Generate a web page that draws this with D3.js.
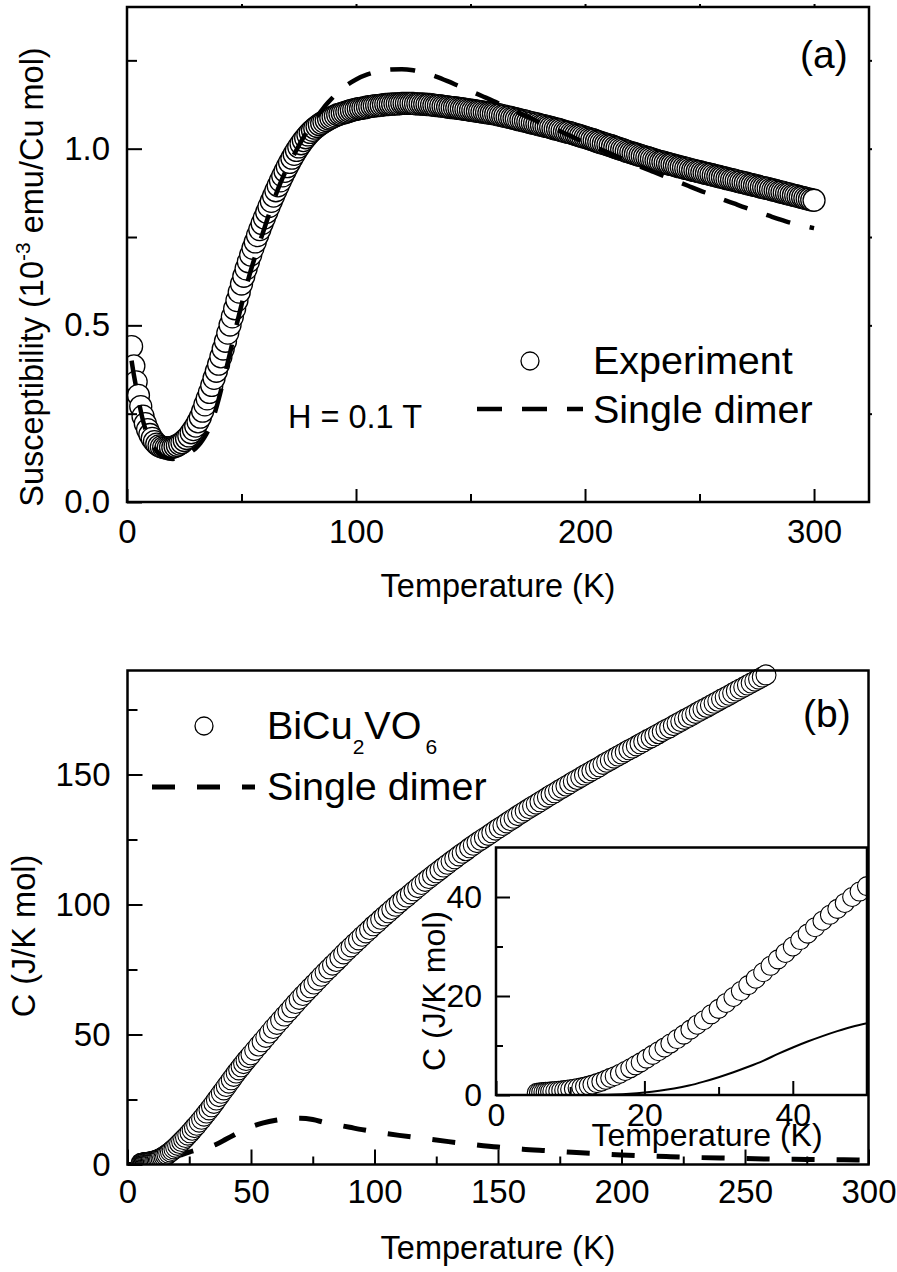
<!DOCTYPE html>
<html><head><meta charset="utf-8">
<script src="https://cdn.jsdelivr.net/npm/d3@7"></script>
<style>
body{margin:0;background:#fff}
svg text{font-family:"Liberation Sans",Arial,sans-serif;fill:#000}
</style></head><body>
<svg id="c" width="897" height="1272"></svg>
<script>
// ---------- DATA ----------
// (a) susceptibility, experiment
const suscT=[2,3,4,5,6,7,8,9,10,
11,12,13,14,15,16,17,18,19,20,
21,22,23,24,25,26,27,28,29,30,
31,32,33,34,35,36,37,38,39,40,
41,42,43,44,45,46,47,48,49,50,
51,52,53,54,55,56,57,58,59,60,
61,62,63,64,65,66,67,68,69,70,
71,72,73,74,75,76,77,78,79,80,
81,82,83,84,85,86,87,88,89,90,
91,92,93,94,95,96,97,98,99,100,
101,102,103,104,105,106,107,108,109,110,
111,112,113,114,115,116,117,118,119,120,
121,122,123,124,125,126,127,128,129,130,
131,132,133,134,135,136,137,138,139,140,
141,142,143,144,145,146,147,148,149,150,
151,152,153,154,155,156,157,158,159,160,
161,162,163,164,165,166,167,168,169,170,
171,172,173,174,175,176,177,178,179,180,
181,182,183,184,185,186,187,188,189,190,
191,192,193,194,195,196,197,198,199,200,
201,202,203,204,205,206,207,208,209,210,
211,212,213,214,215,216,217,218,219,220,
221,222,223,224,225,226,227,228,229,230,
231,232,233,234,235,236,237,238,239,240,
241,242,243,244,245,246,247,248,249,250,
251,252,253,254,255,256,257,258,259,260,
261,262,263,264,265,266,267,268,269,270,
271,272,273,274,275,276,277,278,279,280,
281,282,283,284,285,286,287,288,289,290,
291,292,293,294,295,296,297,298,299,300];
const suscExp=[0.440,0.385,0.340,0.302,0.270,0.243,0.222,0.205,0.191,
0.180,0.171,0.164,0.159,0.156,0.154,0.153,0.153,0.154,0.155,
0.157,0.160,0.164,0.168,0.174,0.180,0.187,0.196,0.205,0.215,
0.227,0.240,0.257,0.275,0.292,0.310,0.330,0.350,0.370,0.390,
0.411,0.433,0.455,0.478,0.501,0.524,0.547,0.570,0.594,0.617,
0.639,0.660,0.680,0.699,0.718,0.736,0.754,0.771,0.788,0.804,
0.820,0.836,0.851,0.866,0.881,0.895,0.909,0.923,0.936,0.949,
0.961,0.973,0.984,0.995,1.005,1.014,1.023,1.031,1.039,1.046,
1.052,1.058,1.063,1.068,1.072,1.076,1.080,1.084,1.087,1.090,
1.093,1.096,1.098,1.100,1.102,1.104,1.106,1.108,1.110,1.111,
1.113,1.114,1.115,1.116,1.118,1.119,1.120,1.121,1.122,1.122,
1.123,1.124,1.125,1.125,1.126,1.126,1.127,1.127,1.127,1.128,
1.128,1.128,1.128,1.128,1.128,1.127,1.127,1.127,1.126,1.126,
1.125,1.125,1.124,1.123,1.122,1.122,1.121,1.120,1.119,1.118,
1.117,1.116,1.116,1.115,1.114,1.113,1.112,1.111,1.110,1.109,
1.108,1.107,1.106,1.105,1.104,1.103,1.102,1.101,1.100,1.099,
1.098,1.096,1.095,1.093,1.092,1.090,1.089,1.087,1.086,1.084,
1.082,1.081,1.079,1.078,1.076,1.074,1.073,1.071,1.070,1.068,
1.066,1.065,1.063,1.062,1.060,1.058,1.056,1.055,1.053,1.051,
1.049,1.047,1.046,1.044,1.042,1.040,1.038,1.036,1.034,1.032,
1.030,1.028,1.026,1.024,1.021,1.019,1.017,1.015,1.013,1.011,
1.009,1.007,1.004,1.002,1.000,0.998,0.996,0.993,0.991,0.989,
0.987,0.985,0.983,0.981,0.979,0.977,0.975,0.973,0.971,0.969,
0.967,0.965,0.963,0.962,0.960,0.958,0.956,0.955,0.953,0.951,
0.949,0.948,0.946,0.944,0.943,0.941,0.939,0.938,0.936,0.935,
0.933,0.931,0.930,0.928,0.927,0.925,0.923,0.922,0.920,0.919,
0.917,0.915,0.914,0.912,0.911,0.909,0.907,0.906,0.904,0.903,
0.901,0.899,0.898,0.896,0.895,0.893,0.891,0.890,0.888,0.887,
0.885,0.883,0.882,0.880,0.878,0.877,0.875,0.873,0.872,0.870,
0.868,0.867,0.865,0.863,0.862,0.860,0.858,0.857,0.855,0.854];
// (a) single dimer model
const dimerT=[2,3,4,5,6,7,8,10,12,14,16,18,20,22,24,26,28,30,32,34,36,38,40,42,44,46,48,50,52,54,56,58,60,62,64,66,68,70,72,74,76,78,80,82,84,86,88,90,95,100,105,110,115,120,125,130,135,140,145,150,155,160,165,170,175,180,185,190,195,200,205,210,215,220,225,230,235,240,245,250,255,260,265,270,275,280,285,290,295,300];
const dimerChi=[0.400,0.360,0.325,0.290,0.258,0.230,0.207,0.174,0.152,0.137,0.128,0.123,0.122,0.124,0.128,0.134,0.142,0.152,0.166,0.185,0.210,0.245,0.290,0.342,0.395,0.450,0.505,0.558,0.608,0.654,0.696,0.736,0.775,0.814,0.852,0.887,0.918,0.946,0.972,0.996,1.020,1.042,1.063,1.083,1.100,1.117,1.132,1.146,1.175,1.196,1.210,1.219,1.224,1.225,1.222,1.215,1.204,1.191,1.177,1.163,1.149,1.135,1.120,1.105,1.090,1.075,1.061,1.047,1.032,1.017,1.003,0.989,0.975,0.961,0.947,0.934,0.921,0.908,0.895,0.882,0.870,0.857,0.845,0.833,0.822,0.811,0.800,0.790,0.782,0.775];

// (b) specific heat, BiCu2VO6
const heatT=[5.5,5.8,6.1,6.4,6.7,7.0,7.3,7.6,8.0,8.4,8.8,9.2,9.6,10.0,10.5,11.0,11.5,12.0,12.5,13.0,13.6,14.2,14.8,15.4,16.0,16.7,17.4,18.1,18.8,19.5,20.3,21.1,21.9,22.7,23.5,24.4,25.3,26.2,27.1,
28,29,30,31,32,33,34,35,36,37,38,39,40,41,42,43,44,45,46,47,48,49,50,
51.5,53,54.5,56,57.5,59,60.5,62,63.5,65,
66.5,68,69.5,71,72.5,74,75.5,77,78.5,80,
81.5,83,84.5,86,87.5,89,90.5,92,93.5,95,
96.5,98,99.5,101,102.5,104,105.5,107,108.5,110,
111.5,113,114.5,116,117.5,119,120.5,122,123.5,125,
126.5,128,129.5,131,132.5,134,135.5,137,138.5,140,
141.5,143,144.5,146,147.5,149,150.5,152,153.5,155,
156.5,158,159.5,161,162.5,164,165.5,167,168.5,170,
171.5,173,174.5,176,177.5,179,180.5,182,183.5,185,
186.5,188,189.5,191,192.5,194,195.5,197,198.5,200,
201.5,203,204.5,206,207.5,209,210.5,212,213.5,215,
216.5,218,219.5,221,222.5,224,225.5,227,228.5,230,
231.5,233,234.5,236,237.5,239,240.5,242,243.5,245,
246.5,248,249.5,251,252.5,254,255.5,257,258.5];
const heatC=[0.45,0.5,0.55,0.6,0.63,0.66,0.7,0.74,0.8,0.86,0.92,0.99,1.06,1.15,1.27,1.4,1.55,1.7,1.9,2.1,2.4,2.7,3.05,3.45,3.8,4.3,4.85,5.4,6.0,6.6,7.35,8.1,8.85,9.6,10.4,11.3,12.2,13.2,14.2,
15.1,16.3,17.4,18.6,19.8,21.0,22.2,23.5,24.8,26.1,27.4,28.7,30.0,31.3,32.6,33.9,35.2,36.4,37.6,38.8,40.0,41.1,42.2,
43.9,45.6,47.2,48.9,50.6,52.3,53.9,55.5,57.1,58.7,
60.3,61.9,63.5,65.0,66.5,68.0,69.4,70.9,72.4,73.9,
75.3,76.7,78.1,79.5,81.0,82.4,83.7,85.1,86.4,87.8,
89.1,90.4,91.8,93.0,94.3,95.6,96.8,98.1,99.3,100.6,
101.8,102.9,104.1,105.3,106.5,107.7,108.9,110.0,111.1,112.2,
113.3,114.4,115.5,116.6,117.6,118.7,119.7,120.7,121.8,122.8,
123.8,124.7,125.7,126.6,127.6,128.6,129.5,130.4,131.4,132.3,
133.2,134.2,135.1,136.0,136.9,137.8,138.6,139.5,140.4,141.3,
142.2,143.0,143.9,144.7,145.6,146.4,147.3,148.1,148.9,149.8,
150.6,151.4,152.2,153.0,153.9,154.7,155.5,156.3,157.1,157.9,
158.7,159.5,160.2,161.0,161.8,162.6,163.4,164.1,164.9,165.7,
166.5,167.3,168.0,168.8,169.6,170.4,171.2,171.9,172.7,173.5,
174.3,175.1,175.8,176.6,177.4,178.2,179.0,179.7,180.5,181.3,
182.1,182.9,183.6,184.4,185.2,185.9,186.7,187.5,188.3];
// (b) single dimer (main panel, dashed)
const heatDimerT=[0,5,10,12,15,18,20,22,25,28,30,33,36,40,45,50,55,60,65,70,75,80,85,90,95,100,110,120,130,140,150,160,170,180,190,200,210,220,230,240,250,260,270,280,290,300];
const heatDimerC=[0,0,0.1,0.4,1.2,2.3,3.1,3.8,4.8,5.6,6.1,6.8,7.8,9.8,12.3,14.5,16.0,17.0,17.6,17.8,17.3,16.1,15.2,14.3,13.4,12.6,11.2,10.0,8.8,7.7,6.7,5.9,5.3,4.7,4.2,3.7,3.3,3.0,2.7,2.5,2.3,2.1,2.0,1.9,1.8,1.7];
// (b) inset single dimer (solid)
const insetDimerT=[0,10,14,16,18,20,22,24,26,28,30,32,34,36,38,40,42,44,46,48,50];
const insetDimerC=[0,0,0.03,0.1,0.25,0.5,0.85,1.3,1.9,2.7,3.6,4.6,5.7,6.9,8.3,9.6,10.8,11.9,12.9,13.8,14.5];

// ticks
const aXMajor=[0,100,200,300], aXMinor=[50,150,250];
const aYMajor=[0,0.5,1.0], aYMinor=[0.25,0.75,1.25];
const bXMajor=[0,50,100,150,200,250,300], bXMinor=[25,75,125,175,225,275];
const bYMajor=[0,50,100,150], bYMinor=[25,75,125,175];
const iXMajor=[0,20,40], iXMinor=[10,30];
const iYMajor=[0,20,40], iYMinor=[10,30];

// ---------- DRAW ----------
const FONT='"Liberation Sans",Arial,sans-serif';
const TICK=33, TITLE=32.5;
const svg=d3.select('#c');
const defs=svg.append('defs');

function styleAxis(sel,fs){
  sel.attr('font-family',null).attr('font-size',null);
  sel.select('.domain').remove();
  sel.selectAll('.tick line').attr('stroke','#000').attr('stroke-width',2);
  sel.selectAll('.tick text').attr('font-size',fs).attr('font-family',FONT).attr('fill','#000');
}
function txt(x,y,s,fs,anchor){
  return svg.append('text').attr('x',x).attr('y',y).attr('font-size',fs).attr('text-anchor',anchor||'start').text(s);
}

// ===== Panel (a) =====
const xA=d3.scaleLinear().domain([0,324]).range([127,869]);
const yA=d3.scaleLinear().domain([0,1.401]).range([502,7]);
defs.append('clipPath').attr('id','clipA').append('rect').attr('x',127).attr('y',0).attr('width',770).attr('height',502);

const gA=svg.append('g').attr('clip-path','url(#clipA)');
gA.selectAll('circle').data(suscT.map((t,i)=>[t,suscExp[i]])).join('circle')
  .attr('cx',d=>xA(d[0])).attr('cy',d=>yA(d[1])).attr('r',11)
  .attr('fill','#fff').attr('stroke','#000').attr('stroke-width',1.3);
gA.append('path').datum(dimerT.map((t,i)=>[t,dimerChi[i]]))
  .attr('d',d3.line().x(d=>xA(d[0])).y(d=>yA(d[1])).curve(d3.curveMonotoneX))
  .attr('fill','none').attr('stroke','#000').attr('stroke-width',4.5).attr('stroke-dasharray','25,20');

svg.append('rect').attr('x',127).attr('y',7).attr('width',742).attr('height',495)
  .attr('fill','none').attr('stroke','#000').attr('stroke-width',2.5);
svg.append('g').attr('transform',`translate(0,${yA(0)})`)
  .call(d3.axisBottom(xA).tickValues(aXMajor).tickSize(-13).tickPadding(17.5).tickFormat(d3.format('d'))).call(styleAxis,TICK);
svg.append('g').attr('transform',`translate(0,${yA(0)})`)
  .call(d3.axisBottom(xA).tickValues(aXMinor).tickSize(-8).tickFormat('')).call(styleAxis,TICK);
svg.append('g').attr('transform',`translate(${xA(0)},0)`)
  .call(d3.axisLeft(yA).tickValues(aYMajor).tickSize(-15).tickPadding(17).tickFormat(d3.format('.1f'))).call(styleAxis,TICK);
svg.append('g').attr('transform',`translate(${xA(0)},0)`)
  .call(d3.axisLeft(yA).tickValues(aYMinor).tickSize(-10).tickFormat('')).call(styleAxis,TICK);
svg.append('g').attr('transform',`translate(0,${yA.range()[1]})`)
  .call(d3.axisTop(xA).tickValues(aXMajor.concat(aXMinor).filter(v=>v>0)).tickSize(3).tickFormat('')).call(styleAxis,TICK);
svg.append('g').attr('transform',`translate(${xA.range()[1]},0)`)
  .call(d3.axisRight(yA).tickValues(aYMajor.concat(aYMinor).filter(v=>v>0)).tickSize(3).tickFormat('')).call(styleAxis,TICK);

// labels (a)
const ylA=svg.append('text').attr('transform','translate(43,277) rotate(-90)').attr('text-anchor','middle').attr('font-size',32.5);
ylA.append('tspan').text('Susceptibility (10');
ylA.append('tspan').attr('font-size',21).attr('dy',-13).text('-3');
ylA.append('tspan').attr('dy',13).text(' emu/Cu mol)');
txt(498,597,'Temperature (K)',TITLE,'middle');
txt(800,68,'(a)',39);
txt(288,428,'H = 0.1 T',32.5);
// legend (a)
svg.append('circle').attr('cx',530).attr('cy',361).attr('r',9).attr('fill','#fff').attr('stroke','#000').attr('stroke-width',1.3);
txt(593,374,'Experiment',39.5);
svg.append('line').attr('x1',477).attr('x2',583).attr('y1',409).attr('y2',409)
  .attr('stroke','#000').attr('stroke-width',4.5).attr('stroke-dasharray','25,20');
txt(593,423,'Single dimer',39.5);

// ===== Panel (b) =====
const xB=d3.scaleLinear().domain([0,300]).range([127.5,868.5]);
const yB=d3.scaleLinear().domain([0,190]).range([1164.5,670.5]);
defs.append('clipPath').attr('id','clipB').append('rect').attr('x',127.5).attr('y',620).attr('width',770).attr('height',1164.5-620);

const gB=svg.append('g').attr('clip-path','url(#clipB)');
gB.append('path').datum(heatDimerT.map((t,i)=>[t,heatDimerC[i]]))
  .attr('d',d3.line().x(d=>xB(d[0])).y(d=>yB(d[1])).curve(d3.curveMonotoneX))
  .attr('fill','none').attr('stroke','#000').attr('stroke-width',5).attr('stroke-dasharray','23,22');
gB.selectAll('circle').data(heatT.map((t,i)=>[t,heatC[i]])).join('circle')
  .attr('cx',d=>xB(d[0])).attr('cy',d=>yB(d[1])).attr('r',10)
  .attr('fill','#fff').attr('stroke','#000').attr('stroke-width',1.1);

svg.append('rect').attr('x',127.5).attr('y',670.5).attr('width',741).attr('height',494)
  .attr('fill','none').attr('stroke','#000').attr('stroke-width',2.5);
svg.append('g').attr('transform',`translate(0,${yB(0)})`)
  .call(d3.axisBottom(xB).tickValues(bXMajor).tickSize(-15).tickPadding(15).tickFormat(d3.format('d'))).call(styleAxis,TICK);
svg.append('g').attr('transform',`translate(0,${yB(0)})`)
  .call(d3.axisBottom(xB).tickValues(bXMinor).tickSize(-8).tickFormat('')).call(styleAxis,TICK);
svg.append('g').attr('transform',`translate(${xB(0)},0)`)
  .call(d3.axisLeft(yB).tickValues(bYMajor).tickSize(-15).tickPadding(17).tickFormat(d3.format('d'))).call(styleAxis,TICK);
svg.append('g').attr('transform',`translate(${xB(0)},0)`)
  .call(d3.axisLeft(yB).tickValues(bYMinor).tickSize(-10).tickFormat('')).call(styleAxis,TICK);

svg.append('text').attr('transform','translate(35,936) rotate(-90)').attr('text-anchor','middle').attr('font-size',32.5).text('C (J/K mol)');
txt(498,1259,'Temperature (K)',TITLE,'middle');
txt(803,727,'(b)',39);
// legend (b)
svg.append('circle').attr('cx',204).attr('cy',726).attr('r',9).attr('fill','#fff').attr('stroke','#000').attr('stroke-width',1.3);
const lb=svg.append('text').attr('x',267).attr('y',739).attr('font-size',39.5);
lb.append('tspan').text('BiCu');
lb.append('tspan').attr('font-size',21).attr('dy',15).text('2');
lb.append('tspan').attr('dy',-15).text('VO');
lb.append('tspan').attr('font-size',21).attr('dy',15).attr('dx',4).text('6');
svg.append('line').attr('x1',152).attr('x2',255).attr('y1',787).attr('y2',787)
  .attr('stroke','#000').attr('stroke-width',5).attr('stroke-dasharray','23,22');
txt(267,800,'Single dimer',39.5);

// ===== Inset =====
const xI=d3.scaleLinear().domain([0,50]).range([496,867]);
const yI=d3.scaleLinear().domain([0,50]).range([1095,847.5]);
svg.append('rect').attr('x',496).attr('y',847.5).attr('width',371).attr('height',247.5).attr('fill','#fff');
defs.append('clipPath').attr('id','clipI').append('rect').attr('x',496).attr('y',847.5).attr('width',371).attr('height',247.5);
const gI=svg.append('g').attr('clip-path','url(#clipI)');
gI.append('path').datum(insetDimerT.map((t,i)=>[t,insetDimerC[i]]))
  .attr('d',d3.line().x(d=>xI(d[0])).y(d=>yI(d[1])).curve(d3.curveMonotoneX))
  .attr('fill','none').attr('stroke','#000').attr('stroke-width',2);
gI.selectAll('circle').data(heatT.map((t,i)=>[t,heatC[i]]).filter(d=>d[0]<=51)).join('circle')
  .attr('cx',d=>xI(d[0])).attr('cy',d=>yI(d[1])).attr('r',9.5)
  .attr('fill','#fff').attr('stroke','#000').attr('stroke-width',1.1);
svg.append('rect').attr('x',496).attr('y',847.5).attr('width',371).attr('height',247.5)
  .attr('fill','none').attr('stroke','#000').attr('stroke-width',2.5);
svg.append('g').attr('transform',`translate(0,${yI(0)})`)
  .call(d3.axisBottom(xI).tickValues(iXMajor).tickSize(-14).tickPadding(8).tickFormat(d3.format('d'))).call(styleAxis,32);
svg.append('g').attr('transform',`translate(0,${yI(0)})`)
  .call(d3.axisBottom(xI).tickValues(iXMinor).tickSize(-8).tickFormat('')).call(styleAxis,32);
svg.append('g').attr('transform',`translate(${xI(0)},0)`)
  .call(d3.axisLeft(yI).tickValues(iYMajor).tickSize(-14).tickPadding(14).tickFormat(d3.format('d'))).call(styleAxis,32);
svg.append('g').attr('transform',`translate(${xI(0)},0)`)
  .call(d3.axisLeft(yI).tickValues(iYMinor).tickSize(-7).tickFormat('')).call(styleAxis,32);
svg.append('text').attr('transform','translate(445,991) rotate(-90)').attr('text-anchor','middle').attr('font-size',32).text('C (J/K mol)');
txt(707,1146,'Temperature (K)',32,'middle');
</script>
</body></html>
